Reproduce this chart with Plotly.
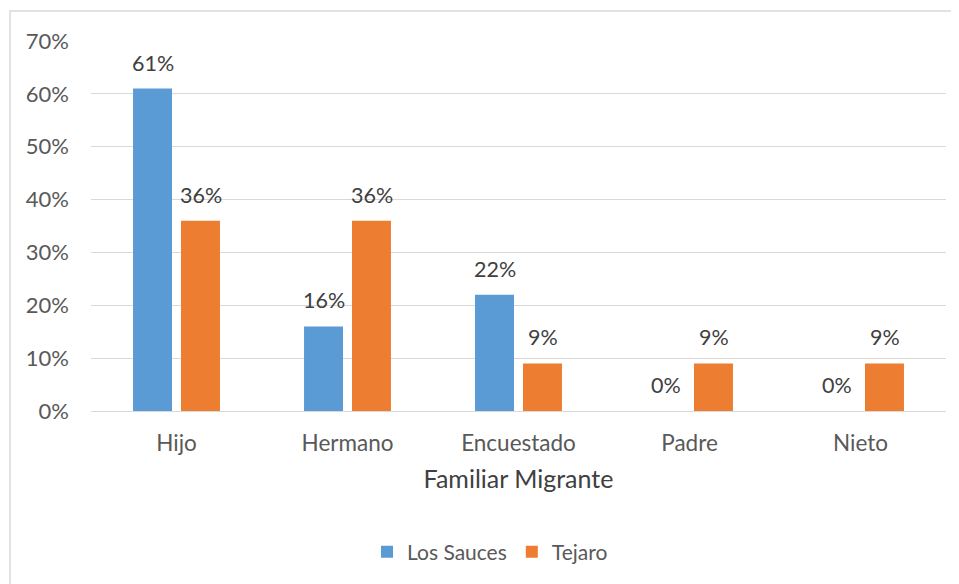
import plotly.graph_objects as go

categories = ["Hijo", "Hermano", "Encuestado", "Padre", "Nieto"]
los_sauces = [0.61, 0.16, 0.22, 0.0, 0.0]
tejaro = [0.36, 0.36, 0.09, 0.09, 0.09]
series_names = ["Los Sauces", "Tejaro"]
x_title = "Familiar Migrante"

FONT = "Lato"
TXT = "#595959"
COLORS = ["#5B9BD5", "#ED7D31"]
OFF = 8  # page body margin

fig = go.Figure()
annotations = []
for i, (name, vals) in enumerate([(series_names[0], los_sauces), (series_names[1], tejaro)]):
    fig.add_trace(go.Bar(
        x=categories, y=vals, name=name, marker=dict(color=COLORS[i], line=dict(width=0)),
    ))
    for c, v in zip(categories, vals):
        annotations.append(dict(
            x=c, y=v, xref="x", yref="y", text=f"{round(v*100)}%", showarrow=False,
            xshift=-24 if i == 0 else 24, yanchor="bottom", yshift=11,
            font=dict(family=FONT, size=21.5, color="#404040"),
        ))

W, H = 959 - OFF, 584 - OFF
L, R, T, B = 91 - OFF, 13, 41 - OFF, 173
pw, ph = W - L - R, H - T - B

fig.update_layout(
    width=W, height=H,
    margin=dict(l=L, r=R, t=T, b=B),
    paper_bgcolor="white", plot_bgcolor="white",
    barmode="group", bargap=0.439, bargroupgap=0.1875,
    font=dict(family=FONT, color=TXT, size=20),
    showlegend=True,
    legend=dict(orientation="h", x=(490 - 91) / pw, xanchor="center", y=(411 - 552) / ph, yanchor="middle",
                font=dict(family=FONT, size=21, color=TXT), itemwidth=30, traceorder="normal"),
    xaxis=dict(showgrid=False, showline=True, linecolor="#d9d9d9", linewidth=1,
               tickfont=dict(family=FONT, size=22.5, color=TXT), ticks="", ticklabelstandoff=12,
               title=dict(text=x_title, font=dict(family=FONT, size=25, color="#404040"), standoff=15)),
    yaxis=dict(range=[0, 0.7], dtick=0.1, tickformat=".0%", showgrid=True, gridcolor="#d9d9d9",
               gridwidth=1, zeroline=False, showline=False,
               tickfont=dict(family=FONT, size=22, color=TXT), ticklabelstandoff=21),
    annotations=annotations,
    shapes=[dict(type="rect", xref="paper", yref="paper",
                 x0=(10 - 91) / pw, x1=(958 - 91) / pw, y0=(411 - 595) / ph, y1=(411 - 11) / ph,
                 line=dict(color="#d9d9d9", width=1.5), fillcolor="rgba(0,0,0,0)", layer="below")],
)

fig.write_html("out.html")
